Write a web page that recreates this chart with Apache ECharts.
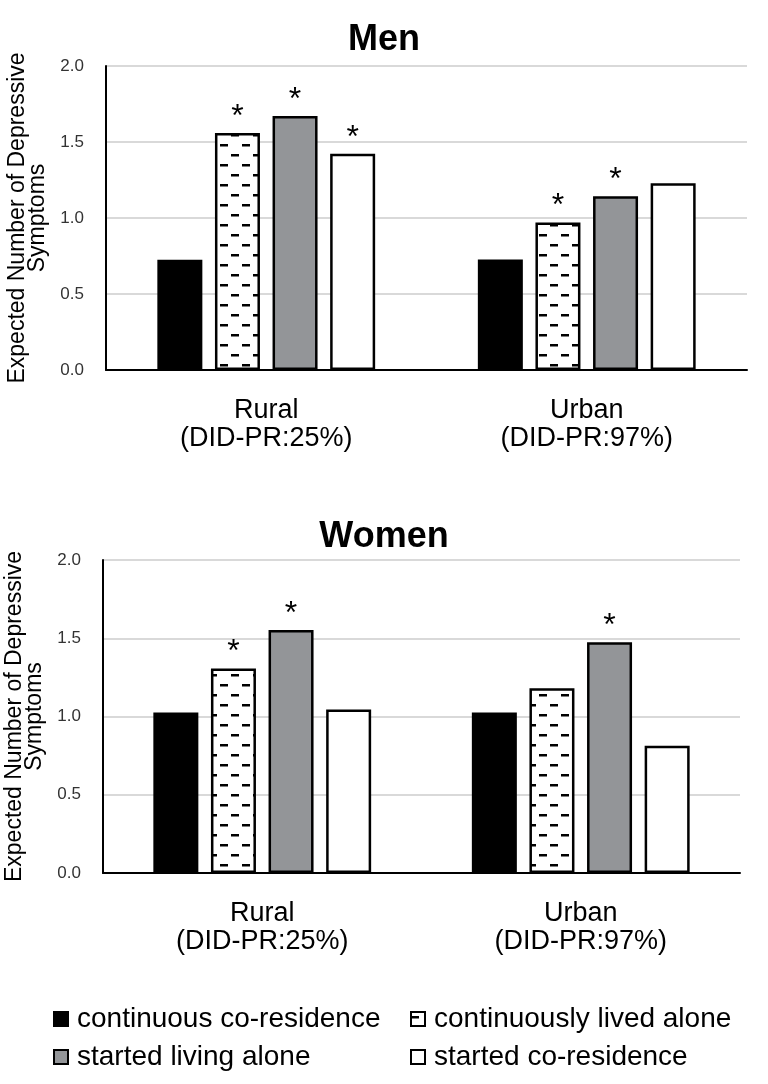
<!DOCTYPE html>
<html>
<head>
<meta charset="utf-8">
<script src="https://cdn.jsdelivr.net/npm/echarts@6/dist/echarts.min.js"></script>
<style>
html,body{margin:0;padding:0;background:#fff;}
#chart{width:768px;height:1084px;}
</style>
</head>
<body>
<div id="chart"></div>
<script>
// ---- data ----
const categories = ['Rural\n(DID-PR:25%)', 'Urban\n(DID-PR:97%)'];
const seriesNames = ['continuous co-residence', 'continuously lived alone', 'started living alone', 'started co-residence'];
const yTicks = [0, 0.5, 1.0, 1.5, 2.0];

// Men
const menContinuousCoRes = [0.726, 0.727];
const menContinuousAlone = [1.559, 0.970];
const menStartedAlone = [1.671, 1.143];
const menStartedCoRes = [1.423, 1.228];
// significance marks (*) for Men
const menSigContinuousCoRes = [false, false];
const menSigContinuousAlone = [true, true];
const menSigStartedAlone = [true, true];
const menSigStartedCoRes = [true, false];

// Women
const womenContinuousCoRes = [1.026, 1.026];
const womenContinuousAlone = [1.306, 1.180];
const womenStartedAlone = [1.552, 1.474];
const womenStartedCoRes = [1.044, 0.813];
// significance marks (*) for Women
const womenSigContinuousCoRes = [false, false];
const womenSigContinuousAlone = [true, false];
const womenSigStartedAlone = [true, true];
const womenSigStartedCoRes = [false, false];

// ---- styles ----
const FONT = "'Liberation Sans', Arial, sans-serif";

function makeDashPattern() {
  const c = document.createElement('canvas');
  c.width = 22; c.height = 20;
  const ctx = c.getContext('2d');
  ctx.fillStyle = '#ffffff';
  ctx.fillRect(0, 0, 22, 20);
  ctx.fillStyle = '#000000';
  ctx.fillRect(0, 4, 8, 2.5);
  ctx.fillRect(11, 14, 8, 2.5);
  return c;
}
const dashPattern = { image: makeDashPattern(), repeat: 'repeat' };

const seriesStyles = [
  { color: '#000000', borderColor: '#000000', borderWidth: 2 },
  { color: dashPattern, borderColor: '#000000', borderWidth: 2.5 },
  { color: '#939598', borderColor: '#000000', borderWidth: 2.5 },
  { color: '#ffffff', borderColor: '#000000', borderWidth: 2.5 }
];

const menData = [menContinuousCoRes, menContinuousAlone, menStartedAlone, menStartedCoRes];
const menSig = [menSigContinuousCoRes, menSigContinuousAlone, menSigStartedAlone, menSigStartedCoRes];
const womenData = [womenContinuousCoRes, womenContinuousAlone, womenStartedAlone, womenStartedCoRes];
const womenSig = [womenSigContinuousCoRes, womenSigContinuousAlone, womenSigStartedAlone, womenSigStartedCoRes];

function buildSeries(dataSets, sigSets, gridIdx) {
  return dataSets.map((vals, i) => ({
    name: seriesNames[i],
    type: 'bar',
    xAxisIndex: gridIdx,
    yAxisIndex: gridIdx,
    barWidth: 45,
    barGap: '28%',
    itemStyle: seriesStyles[i],
    emphasis: { disabled: true },
    label: {
      show: true,
      position: 'top',
      distance: 0,
      fontFamily: FONT,
      fontSize: 32,
      color: '#000',
      formatter: p => (sigSets[i][p.dataIndex] ? '*' : '')
    },
    data: vals
  }));
}

const yAxisBase = {
  type: 'value',
  min: 0,
  max: 2,
  interval: 0.5,
  name: 'Expected Number of Depressive\nSymptoms',
  nameLocation: 'middle',
  nameRotate: 90,
  nameTextStyle: { fontFamily: FONT, fontSize: 23, color: '#000', lineHeight: 20 },
  axisLine: { show: true, lineStyle: { color: '#000', width: 2 } },
  axisTick: { show: false },
  axisLabel: { fontFamily: FONT, fontSize: 17, color: '#333', margin: 22, formatter: v => v.toFixed(1) },
  splitLine: { show: true, lineStyle: { color: '#d9d9d9', width: 2 } }
};

const xAxisBase = {
  type: 'category',
  data: categories,
  axisLine: { show: true, lineStyle: { color: '#000', width: 2 } },
  axisTick: { show: false },
  axisLabel: { fontFamily: FONT, fontSize: 27, color: '#000', lineHeight: 28, margin: 27 }
};

const legendBase = {
  orient: 'vertical',
  icon: 'rect',
  itemWidth: 14,
  itemHeight: 14,
  itemGap: 10,
  textStyle: { fontFamily: FONT, fontSize: 28, color: '#000', padding: [0, 0, 0, 4] },
  selectedMode: false
};

const chart = echarts.init(document.getElementById('chart'), null, { renderer: 'canvas' });
chart.setOption({
  backgroundColor: '#ffffff',
  animation: false,
  title: [
    { text: 'Men', left: 'center', top: 17, textStyle: { fontFamily: FONT, fontSize: 36, fontWeight: 'bold', color: '#000' } },
    { text: 'Women', left: 'center', top: 514, textStyle: { fontFamily: FONT, fontSize: 36, fontWeight: 'bold', color: '#000' } }
  ],
  legend: [
    Object.assign({}, legendBase, { left: 48, top: 1000, data: [seriesNames[0], seriesNames[2]] }),
    Object.assign({}, legendBase, { left: 405, top: 1000, data: [seriesNames[1], seriesNames[3]] })
  ],
  grid: [
    { left: 106, right: 21, top: 66, height: 304, outerBoundsMode: 'none' },
    { left: 103, right: 28, top: 560, height: 313, outerBoundsMode: 'none' }
  ],
  xAxis: [
    Object.assign({}, xAxisBase, { gridIndex: 0 }),
    Object.assign({}, xAxisBase, { gridIndex: 1 })
  ],
  yAxis: [
    Object.assign({}, yAxisBase, { gridIndex: 0, nameGap: 53 }),
    Object.assign({}, yAxisBase, { gridIndex: 1, nameGap: 47 })
  ],
  series: buildSeries(menData, menSig, 0).concat(buildSeries(womenData, womenSig, 1))
});
</script>
</body>
</html>
